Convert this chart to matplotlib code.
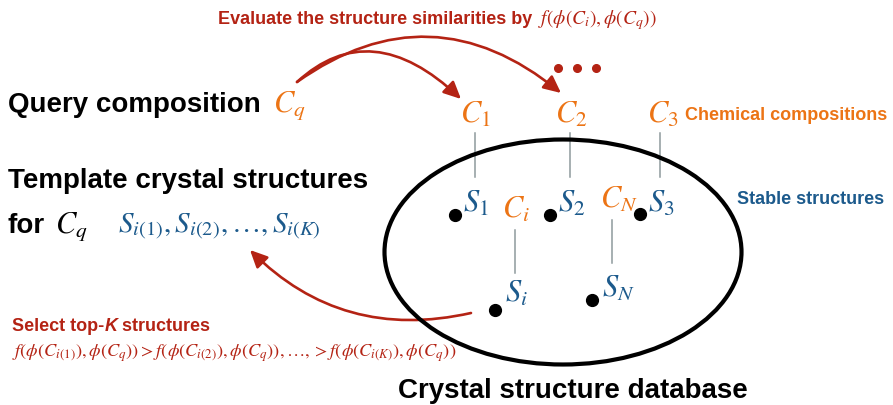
import matplotlib
matplotlib.use("Agg")
import matplotlib.pyplot as plt
from matplotlib.patches import Ellipse, FancyArrowPatch
from matplotlib.path import Path

plt.rcParams['mathtext.fontset'] = 'stix'
plt.rcParams['font.family'] = ['Liberation Sans', 'DejaVu Sans']

# ---- content ----
title_text = "Evaluate the structure similarities by "
title_math = r"$f(\phi(C_i), \phi(C_q))$"
query_label = "Query composition"
query_symbol = r"$C_q$"
template_line1 = "Template crystal structures"
template_line2 = "for"
template_seq = r"$S_{i(1)}, S_{i(2)}, \ldots, S_{i(K)}$"
comp_labels = [r"$C_1$", r"$C_2$", r"$C_3$"]
struct_labels = [r"$S_1$", r"$S_2$", r"$S_3$"]
inner_comp_labels = [r"$C_i$", r"$C_N$"]
inner_struct_labels = [r"$S_i$", r"$S_N$"]
comp_caption = "Chemical compositions"
struct_caption = "Stable structures"
select_parts = ["Select top-", "K", " structures"]
select_formula = (r"$f(\phi(C_{i(1)}), \phi(C_q)) > f(\phi(C_{i(2)}), \phi(C_q)), \ldots,"
                  r" > f(\phi(C_{i(K)}), \phi(C_q))$")
db_label = "Crystal structure database"

# ---- positions (pixel space) ----
comp_x = [460, 555, 647]
comp_base = 123
struct_x = [463, 558, 648]
struct_base = 212
dot_xy = [(455, 215), (550, 215), (640, 214), (495, 310), (592, 300)]
inner_comp_xy = [(502, 218), (600, 208)]
inner_struct_xy = [(505, 302), (602, 297)]
top_links_x = [475, 570, 660]
inner_links = [(515, 230, 273), (612, 220, 263)]

RED = "#B42314"
ORANGE = "#EC7415"
BLUE = "#1C5A8C"
GREY = "#8E9A9D"
BIG = 20
MATH = 22

fig = plt.figure(figsize=(8.93, 4.05), dpi=100)
ax = fig.add_axes([0, 0, 1, 1])
ax.set_xlim(0, 893)
ax.set_ylim(405, 0)
ax.axis('off')
r = fig.canvas.get_renderer()
inv = ax.transData.inverted()


def right_edge(txt):
    bb = txt.get_window_extent(renderer=r)
    return inv.transform((bb.x1, bb.y0))[0]


# Title
t = ax.text(218, 24, title_text, color=RED, fontsize=13,
            fontweight='bold', va='baseline', ha='left')
ax.text(right_edge(t) + 1, 24, title_math, color=RED, fontsize=14,
        va='baseline', ha='left')
for x in [558, 577, 596]:
    ax.plot(x, 68, 'o', color=RED, ms=5.5)

# Left texts
ax.text(8, 112, query_label, fontsize=BIG, fontweight='bold', va='baseline')
ax.text(273, 112, query_symbol, fontsize=MATH, color=ORANGE, va='baseline')
ax.text(8, 188, template_line1, fontsize=BIG, fontweight='bold', va='baseline')
ax.text(8, 233, template_line2, fontsize=BIG, fontweight='bold', va='baseline')
ax.text(55, 233, query_symbol, fontsize=MATH, color='black', va='baseline')
ax.text(118, 233, template_seq, fontsize=21, color=BLUE, va='baseline')

# Ellipse database
ax.add_patch(Ellipse((563, 252), 357, 225, fill=False, lw=3.0, ec='black', zorder=5))

# compositions & structures
for lab, x in zip(comp_labels, comp_x):
    ax.text(x, comp_base, lab, fontsize=MATH, color=ORANGE, va='baseline')
for lab, x in zip(struct_labels, struct_x):
    ax.text(x, struct_base, lab, fontsize=MATH, color=BLUE, va='baseline')
for lab, (x, y) in zip(inner_comp_labels, inner_comp_xy):
    ax.text(x, y, lab, fontsize=MATH, color=ORANGE, va='baseline')
for lab, (x, y) in zip(inner_struct_labels, inner_struct_xy):
    ax.text(x, y, lab, fontsize=MATH, color=BLUE, va='baseline')
for x in top_links_x:
    ax.plot([x, x], [133, 177], color=GREY, lw=1.1)
for x, y0, y1 in inner_links:
    ax.plot([x, x], [y0, y1], color=GREY, lw=1.1)
for (x, y) in dot_xy:
    ax.plot(x, y, 'o', color='black', ms=8.5, zorder=6)

ax.text(685, 115, comp_caption, fontsize=13, fontweight='bold', color=ORANGE, va='center')
ax.text(737, 200, struct_caption, fontsize=13, fontweight='bold', color=BLUE, va='center')


# Arrows
def curve_arrow(p0, p1, p2):
    path = Path([p0, p1, p2], [Path.MOVETO, Path.CURVE3, Path.CURVE3])
    a = FancyArrowPatch(path=path, arrowstyle="-|>,head_length=0.8,head_width=0.38",
                        mutation_scale=13, lw=1.9, color=RED, zorder=4)
    ax.add_patch(a)


curve_arrow((297, 82), (371, 14), (461, 99))
curve_arrow((297, 82), (431, -13), (561, 93))
curve_arrow((471, 313), (342, 342), (250, 250))

# Select top-K
x = 12
y = 331
weights = [('bold', 'normal'), ('bold', 'italic'), ('bold', 'normal')]
for part, (w, s) in zip(select_parts, weights):
    tt = ax.text(x, y, part, fontsize=13, fontweight=w, fontstyle=s, color=RED, va='baseline')
    x = right_edge(tt)

ax.text(12, 357, select_formula, fontsize=13.2, color=RED, va='baseline')

ax.text(398, 398, db_label, fontsize=BIG, fontweight='bold', va='baseline')

fig.savefig("out.png", dpi=100)
